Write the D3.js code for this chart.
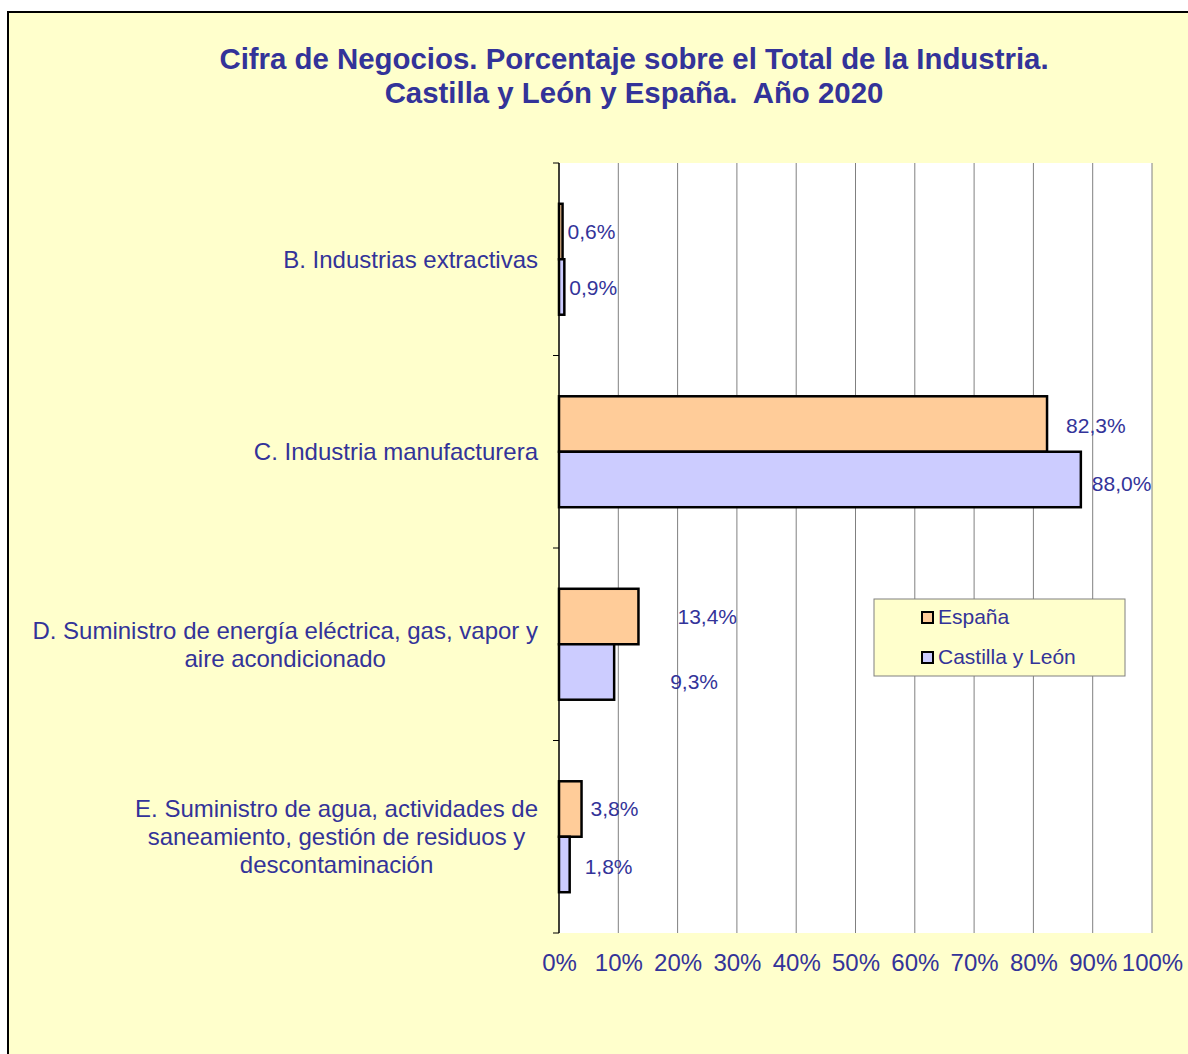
<!DOCTYPE html>
<html>
<head>
<meta charset="utf-8">
<script src="https://cdn.jsdelivr.net/npm/d3@7"></script>
<style>
  html, body { margin: 0; padding: 0; background: #ffffff; }
  svg { display: block; font-family: "Liberation Sans", Arial, sans-serif; }
</style>
</head>
<body>
<svg id="chart" width="1188" height="1054"></svg>
<script>
// ---- data ----
const categories = [
  ["B. Industrias extractivas"],
  ["C. Industria manufacturera"],
  ["D. Suministro de energía eléctrica, gas, vapor y", "aire acondicionado"],
  ["E. Suministro de agua, actividades de", "saneamiento, gestión de residuos y", "descontaminación"]
];
const seriesNames = ["España", "Castilla y León"];
const espana = [0.6, 82.3, 13.4, 3.8];
const castillaLeon = [0.9, 88.0, 9.3, 1.8];
const espanaLabels = ["0,6%", "82,3%", "13,4%", "3,8%"];
const castillaLabels = ["0,9%", "88,0%", "9,3%", "1,8%"];
const xTicks = [0, 10, 20, 30, 40, 50, 60, 70, 80, 90, 100];
const titleLines = ["Cifra de Negocios. Porcentaje sobre el Total de la Industria.", "Castilla y León y España.  Año 2020"];

// label nudges (layout, not data)
const labelDx = [[5, 19, 39, 9], [5, 11, 56, 15]];
const labelDy = [[0, 1.5, 0, 0], [1, 4.5, 10, 2.5]];

const colors = ["#FFCC99", "#CCCCFF"];
const textColor = "#333399";

const svg = d3.select("#chart");

// background frame
svg.append("rect").attr("x", 8).attr("y", 12).attr("width", 1300).attr("height", 1200)
  .attr("fill", "#FFFFCC").attr("stroke", "#000").attr("stroke-width", 2);

// title
svg.append("g").selectAll("text").data(titleLines).join("text")
  .attr("x", 634).attr("y", (d, i) => 69 + i * 34)
  .attr("text-anchor", "middle")
  .attr("font-weight", "bold").attr("font-size", 29.4)
  .attr("fill", textColor)
  .style("white-space", "pre")
  .text(d => d);

// plot area
const plot = { left: 559, right: 1152, top: 163, bottom: 933 };
const x = d3.scaleLinear().domain([0, 100]).range([plot.left, plot.right]);
const y = d3.scaleBand().domain(d3.range(categories.length)).range([plot.top, plot.bottom]).padding(0);
const ySub = d3.scaleBand().domain([0, 1]).range([0, y.bandwidth()]).paddingOuter(0.735).paddingInner(0);

svg.append("rect").attr("x", plot.left).attr("y", plot.top)
  .attr("width", plot.right - plot.left).attr("height", plot.bottom - plot.top)
  .attr("fill", "#ffffff");

// gridlines
svg.append("g").selectAll("line").data(xTicks.slice(1)).join("line")
  .attr("x1", d => x(d)).attr("x2", d => x(d))
  .attr("y1", plot.top).attr("y2", plot.bottom)
  .attr("stroke", "#808080").attr("stroke-width", 1);

// x axis labels
const xAxis = d3.axisBottom(x).tickValues(xTicks).tickFormat(d => d + "%").tickSize(0).tickPadding(21);
const gx = svg.append("g").attr("transform", `translate(0,${plot.bottom})`).call(xAxis);
gx.select(".domain").remove();
gx.selectAll("text").attr("font-size", 24).attr("fill", textColor)
  .attr("font-family", "Liberation Sans, Arial, sans-serif");

// bars
const seriesVals = [espana, castillaLeon];
const seriesLbls = [espanaLabels, castillaLabels];
seriesVals.forEach((vals, s) => {
  const g = svg.append("g");
  g.selectAll("rect").data(vals).join("rect")
    .attr("x", x(0))
    .attr("y", (d, i) => y(i) + ySub(s))
    .attr("width", d => x(d) - x(0))
    .attr("height", ySub.bandwidth())
    .attr("fill", colors[s]).attr("stroke", "#000").attr("stroke-width", 2.5);
  g.selectAll("text").data(vals).join("text")
    .attr("x", (d, i) => x(d) + labelDx[s][i])
    .attr("y", (d, i) => y(i) + ySub(s) + ySub.bandwidth() / 2 + labelDy[s][i])
    .attr("dy", "0.35em")
    .attr("font-size", 21).attr("fill", textColor)
    .text((d, i) => seriesLbls[s][i]);
});

// left axis
const gy = svg.append("g");
gy.append("line").attr("x1", plot.left).attr("x2", plot.left)
  .attr("y1", plot.top).attr("y2", plot.bottom).attr("stroke", "#000").attr("stroke-width", 1.5);
gy.selectAll("line.tick").data(d3.range(categories.length + 1)).join("line")
  .attr("class", "tick")
  .attr("x1", plot.left - 6).attr("x2", plot.left)
  .attr("y1", i => i < categories.length ? y(i) : plot.bottom)
  .attr("y2", i => i < categories.length ? y(i) : plot.bottom)
  .attr("stroke", "#000").attr("stroke-width", 1);

// category labels (center-aligned block, right edge at 538)
const lineH = 28;
categories.forEach((lines, i) => {
  const g = svg.append("g");
  const texts = g.selectAll("text").data(lines).join("text")
    .attr("font-size", 24).attr("fill", textColor)
    .attr("text-anchor", "middle")
    .attr("dy", "0.35em")
    .text(d => d);
  let maxW = 0;
  texts.each(function () { maxW = Math.max(maxW, this.getComputedTextLength()); });
  const cx = 538 - maxW / 2;
  const cy = y(i) + y.bandwidth() / 2;
  texts.attr("x", cx).attr("y", (d, j) => cy + (j - (lines.length - 1) / 2) * lineH);
});

// legend
const leg = svg.append("g").attr("transform", "translate(874,599)");
leg.append("rect").attr("width", 251).attr("height", 77)
  .attr("fill", "#FFFFCC").attr("stroke", "#808080").attr("stroke-width", 1);
const items = leg.selectAll("g.item").data(seriesNames).join("g")
  .attr("class", "item")
  .attr("transform", (d, i) => `translate(48,${18 + i * 40})`);
items.append("rect").attr("x", 0).attr("y", -5).attr("width", 11).attr("height", 11)
  .attr("fill", (d, i) => colors[i]).attr("stroke", "#000").attr("stroke-width", 2);
items.append("text").attr("x", 16).attr("y", 0).attr("dy", "0.35em")
  .attr("font-size", 21).attr("fill", textColor).text(d => d);
</script>
</body>
</html>
